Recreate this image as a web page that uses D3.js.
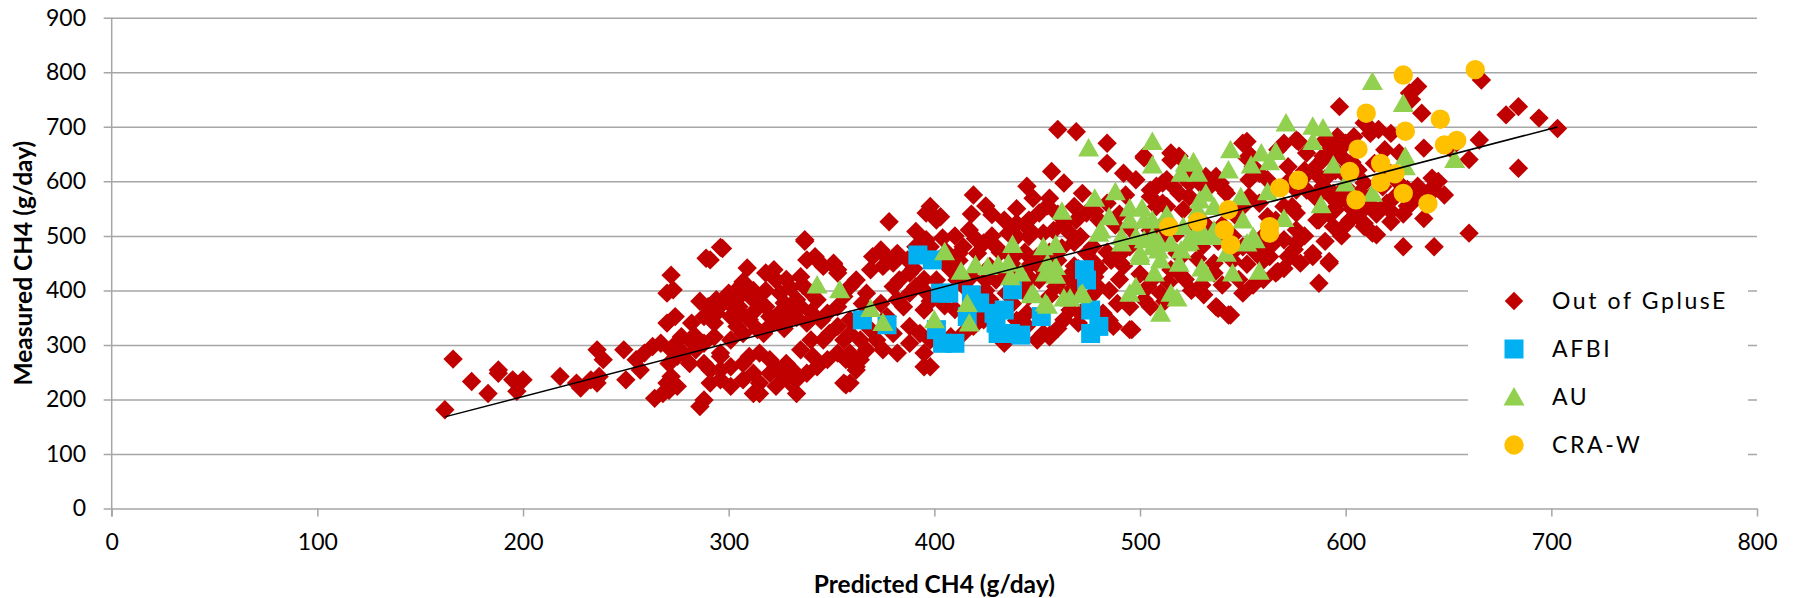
<!DOCTYPE html>
<html><head><meta charset="utf-8">
<script src="https://cdn.jsdelivr.net/npm/d3@7"></script>
<style>html,body{margin:0;padding:0;background:#fff;}svg{display:block;font-family:Lato,"Open Sans",sans-serif;}</style>
</head><body>
<svg id="c" width="1793" height="598"></svg>
<script>
const xTicks=[0,100,200,300,400,500,600,700,800];
const yTicks=[0,100,200,300,400,500,600,700,800,900];
const seriesNames=["Out of GplusE","AFBI","AU","CRA-W"];
const seriesColors=["#C00000","#00B0F0","#92D050","#FFC000"];
const trendX=[162,703];
const trendSlope=0.983, trendIntercept=8.8;

const outOfGplusE=[[162,181],[166,274],[175,233],[183,211],[188,248],[195,236],[200,236],[197,215],[218,242],[228,221],[233,236],[236,291],[239,273],[237,242],[236,230],[226,230],[249,291],[250,236],[255,273],[259,285],[263,297],[267,303],[257,254],[264,202],[270,230],[272,242],[271,266],[275,279],[272,291],[273,297],[272,428],[273,401],[270,395],[274,352],[270,340],[277,315],[281,309],[284,291],[288,266],[291,254],[291,230],[268,211],[271,217],[275,224],[286,187],[288,199],[289,459],[296,479],[282,340],[288,352],[290,358],[294,383],[284,315],[288,303],[293,315],[296,279],[296,254],[278,285],[281,266],[188,254],
[298,383],[302,370],[309,441],[307,413],[318,432],[323,419],[314,383],[318,370],[312,211],[315,211],[327,377],[328,340],[330,230],[333,211],[331,242],[337,493],[338,456],[343,456],[335,425],[351,447],[353,438],[357,227],[364,273],[359,279],[378,526],[375,468],[378,456],
[297,477],[291,456],[396,542],[401,532],[391,508],[337,490],[342,462],[346,444],[351,450],[353,432],[307,416],[322,438],[370,462],[374,474],[375,444],[380,450],[369,438],[387,456],[388,432],[383,419],[380,407],[362,419],[359,407],[367,395],[365,376],[356,389],[353,370],[348,358],[340,395],[343,383],[333,383],[330,364],[323,346],[320,352],[315,376],[312,383],[307,395],[301,383],[297,376],[294,358],[293,340],[301,352],[306,358],[310,346],[314,328],[317,321],[307,321],[301,309],[304,334],
[296,285],[301,260],[307,266],[310,279],[315,285],[320,273],[323,260],[328,266],[331,254],[327,242],[333,236],[323,224],[315,230],[307,236],[301,224],[296,236],[312,248],[320,248],[338,248],[343,260],[348,273],[353,285],[357,273],[362,260],[356,230],[395,260],[335,291],[340,309],[346,309],[341,279],
[353,334],[359,346],[367,358],[374,376],[382,383],[388,395],[391,407],[385,370],[395,364],[377,352],[369,328],[359,321],[349,321],[356,309],[364,309],[372,309],[380,321],[388,334],[393,321],[398,309],[375,291],[382,285],[388,303],[395,285],[367,291],[359,285],[382,468],[391,480],[396,493],
[460,695],[469,691],[484,670],[484,633],[492,615],[502,646],[457,618],[445,591],[448,569],[456,569],[463,597],[419,575],[428,539],[434,529],[401,529],[417,511],[404,496],[412,468],[424,487],[430,480],[440,523],[446,529],[451,542],[440,499],[446,499],[453,505],[463,523],[466,505],[468,554],[472,578],[474,542],[469,529],[480,529],[471,499],[474,468],[477,480],
[401,419],[408,438],[411,419],[421,468],[427,444],[425,419],[430,419],[443,407],[446,389],[451,419],[456,389],[459,407],[466,364],[471,358],[476,389],[482,358],[489,376],[487,334],[495,328],[502,383],[504,407],[463,346],[453,321],[456,315],[434,303],[419,334],[414,321],[408,315],[398,260],[424,346],[427,383],[438,376],[445,358],
[398,554],[403,535],[493,575],[498,603],[505,584],[508,554],
[597,737],[609,707],[612,688],[552,673],[570,670],[577,673],[590,676],[596,682],[600,670],[581,652],[589,646],[596,652],[552,643],[555,627],[553,603],[558,615],[562,603],[537,609],[534,591],[541,584],[515,639],[519,646],[524,621],[521,609],[513,603],[508,591],[505,572],[511,560],
[573,603],[581,584],[586,572],[589,591],[594,578],[596,560],[600,566],[609,597],[612,572],[610,554],[605,542],[602,529],[609,517],[613,505],[594,517],[586,529],[576,542],[570,554],[558,560],[553,572],[550,554],[547,535],[542,578],[539,597],[532,609],[529,597],[516,591],[519,578],[524,572],[513,554],[521,548],[510,517],
[563,462],[573,462],[584,462],[592,450],[587,413],[566,432],[531,392],[537,370],[544,355],[536,432],[519,432],[515,438],[510,395],[518,468],[576,487],[570,493],[566,529],[562,535],
[635,774],[631,762],[637,725],[632,750],[666,786],[678,722],[684,737],[694,716],[703,697],[684,624],[665,676],[660,640],[638,661],[642,606],[638,532],[660,505],[643,480],[628,480],[615,502],[614,548],[622,526],[609,523],[606,621],[614,633],[619,658],[626,652],[616,695],[622,688],[611,701],[604,682],[598,670],[593,658],[589,640],[587,609],[635,591],[635,572],[643,584],[624,572],[632,560],[595,548],[600,578],[593,572],[613,554],[584,468],[592,453],[567,435],[572,462],[543,355],[538,367],[496,328],[363,273],[362,254],[456,318],[450,309],
[502,643],[515,652],[511,597],[524,597],[550,670],[554,646],[567,658],[576,676],[572,627],[580,609],[576,584],[585,572],[574,554],[587,529],[576,511],[565,487],[359,230],[622,614],[651,660],
[432,470],[438,460],[444,470],[450,462],[456,470],[462,478],[468,488],[458,510],[446,512],[436,505],[428,500],[420,495],[414,480],[410,500],[418,540],[425,555],[440,550],[455,555],[460,540],[478,545],[484,560],[490,540],[488,520],[495,515],[505,510],[512,500],[518,505],[525,510],[532,520],[540,520],[545,500],[538,490],[530,480],[520,462],[528,458],[536,450],[545,455],[552,448],[560,455],[556,470],[550,480],[560,480],[545,470],
[485,400],[490,420],[480,440],[492,445],[486,455],[478,425],[470,410],[465,425],[460,455],[468,445],[500,430],[506,420],[514,415],[522,420],[530,410],[525,400],[540,410],[548,420],[555,410],[550,395],[560,420],[570,440],[578,450],[575,475],[560,500],[580,500],[590,490],[598,500],[600,520],[592,540],[603,550],[615,540],[620,560],
[405,450],[412,455],[418,425],[432,430],[440,440],[446,445],[452,440],[398,480],[406,470],[415,405],[425,400],[435,395],[447,420],[462,420],[470,440],[478,450],[484,470],[490,465],[495,480],[465,395],[480,405],[495,370],[505,370],[512,380],[485,345],[470,340],[460,330],[445,335],[440,345],[428,372],[420,360],[410,365],[405,372],[398,380],[395,400],[395,420],[390,440],
[318,400],[325,395],[330,405],[336,410],[328,420],[312,400],[305,405],[300,395],[325,360],[333,350],[338,340],[345,345],[340,360],[335,370],[327,330],[320,335],[312,360],[305,370],[290,370],[286,380],
[618,590],[625,600],[630,585],[645,600],[648,575],[640,580],[630,555],[622,545],[628,540],[600,590],[607,580],[590,605],[600,610],[580,620],[585,625],[595,620],[603,635],[598,645]];

const afbi=[[365,346],[377,337],[392,465],[399,456],[403,395],[401,328],[407,395],[418,392],[404,303],[410,303],[416,352],[429,358],[438,401],[431,321],[442,318],[452,352],[473,438],[474,419],[476,364],[480,334],[476,321],[434,364],[422,377],[430,340],[437,321]];

const au=[[343,410],[354,401],[369,367],[375,341],[400,346],[405,471],[413,435],[420,447],[426,444],[431,447],[436,450],[438,484],[437,425],[442,432],[416,376],[417,340],[447,392],[453,480],[459,484],[455,450],[459,444],[454,432],[459,428],[455,373],[463,386],[471,392],[462,545],[475,661],[478,569],[488,581],[485,535],[481,511],[495,551],[501,551],[495,529],[502,529],[491,487],[500,462],[495,395],[498,407],[506,673],[506,630],[510,358],[506,529],[506,499],[506,480],[510,456],[519,450],[507,432],[530,441],[532,432],[545,432],[558,435],[515,395],[518,386],[513,539],[521,517],[526,499],[515,487],[523,487],[529,517],[536,511],[542,468],[550,529],[555,499],[556,493],[552,487],[549,572],[536,554],[529,566],[532,578],[528,548],[570,532],[562,581],[588,557],[600,597],[613,578],[594,630],[522,633],[526,636],[520,615],[528,615],[559,652],[566,655],[554,630],[563,636],[543,621],[544,658],[584,673],[584,701],[589,698],[571,707],[613,783],[628,743],[629,646],[629,627],[653,640],[500,468],[509,474],[520,474],[480,505],[491,499],[498,499],[502,493],[509,490],[515,487],[524,490],[530,499],[536,499],[466,386],[454,377],[448,395],[472,395]];

const craw=[[628,795],[663,805],[610,725],[646,714],[629,692],[606,659],[648,667],[654,675],[617,633],[602,618],[624,614],[617,598],[628,578],[605,566],[640,559],[568,588],[577,602],[543,548],[528,526],[514,517],[541,511],[544,484],[563,517],[563,505]];

const svg=d3.select("#c");
const x=d3.scaleLinear().domain([0,800]).range([111.7,1757]);
const y=d3.scaleLinear().domain([0,900]).range([508.5,17.8]);
const gridColor="#A6A6A6";

const gy=svg.append("g").attr("transform",`translate(${x(0)},0)`)
  .call(d3.axisLeft(y).tickValues(yTicks).tickSize(-(x(800)-x(0))).tickPadding(25.7));
gy.select(".domain").remove();
gy.selectAll(".tick line").attr("x1",-8).attr("stroke",gridColor).attr("stroke-width",1.5);
gy.selectAll(".tick text").attr("font-size",23).attr("font-family","Lato").attr("fill","#000");
svg.append("line").attr("x1",x(0)).attr("x2",x(0)).attr("y1",y(900)).attr("y2",y(0)+8).attr("stroke",gridColor).attr("stroke-width",1.5);

const gx=svg.append("g").attr("transform",`translate(0,${y(0)})`)
  .call(d3.axisBottom(x).tickValues(xTicks).tickSize(8).tickPadding(17));
gx.select(".domain").remove();
gx.selectAll(".tick line").attr("stroke",gridColor).attr("stroke-width",1.5);
gx.selectAll(".tick text").attr("font-size",23).attr("font-family","Lato").attr("fill","#000");

svg.append("rect").attr("x",1468).attr("y",252).attr("width",280).attr("height",238).attr("fill","#fff");

const marker={
  diamond:"M0,-9.7L9.7,0L0,9.7L-9.7,0Z",
  square:"M-9.5,-9.5H9.5V9.5H-9.5Z",
  triangle:"M0,-10L10.5,8.5L-10.5,8.5Z",
  circle:d3.symbol(d3.symbolCircle,Math.PI*9.7*9.7)()
};
const shapes=["diamond","square","triangle","circle"];
const sets=[outOfGplusE,afbi,au,craw];
sets.forEach((data,i)=>{
  svg.append("g").selectAll("path").data(data).join("path")
    .attr("d",marker[shapes[i]])
    .attr("transform",d=>`translate(${x(d[0])},${y(d[1])})`)
    .attr("fill",seriesColors[i]);
});

svg.append("line")
  .attr("x1",x(trendX[0])).attr("y1",y(trendSlope*trendX[0]+trendIntercept))
  .attr("x2",x(trendX[1])).attr("y2",y(trendSlope*trendX[1]+trendIntercept))
  .attr("stroke","#000").attr("stroke-width",1.5);

const lg=svg.append("g");
seriesNames.forEach((n,i)=>{
  const cy=301+i*48;
  lg.append("path").attr("d",marker[shapes[i]]).attr("transform",`translate(1514,${cy}) scale(${i===0?0.95:1})`).attr("fill",seriesColors[i]);
  lg.append("text").attr("x",1552).attr("y",cy).attr("dy","0.35em").attr("font-size",23).attr("letter-spacing","2.6px").attr("fill","#000").text(n);
});

svg.append("text").attr("x",(x(0)+x(800))/2).attr("y",584).attr("dy","0.35em").attr("text-anchor","middle")
  .attr("font-weight","bold").attr("font-size",24.5).text("Predicted CH4 (g/day)");
svg.append("text").attr("transform",`translate(23,${(y(0)+y(900))/2}) rotate(-90)`).attr("dy","0.35em").attr("text-anchor","middle")
  .attr("font-weight","bold").attr("font-size",24.5).text("Measured CH4 (g/day)");
</script>
</body></html>
